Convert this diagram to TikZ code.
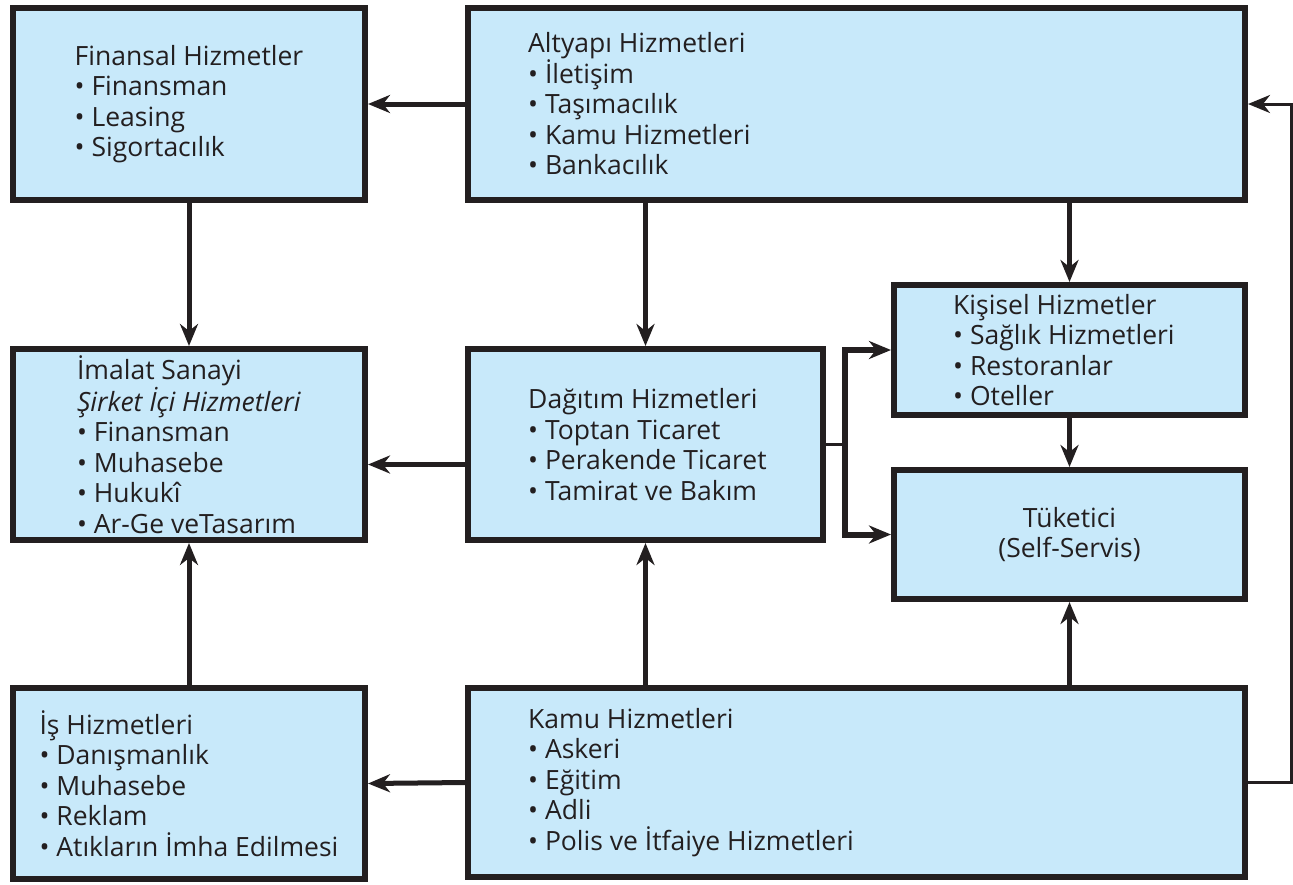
\documentclass[tikz,border=0pt]{standalone}
\usepackage{fontspec}
\setmainfont{Open Sans}
\usetikzlibrary{arrows.meta,positioning}
\definecolor{boxfill}{RGB}{200,233,250}
\definecolor{boxline}{RGB}{35,31,32}
\tikzset{>={Stealth[length=22pt,width=18pt,inset=7pt]}}
\tikzstyle{box}=[draw=boxline,line width=6,fill=boxfill,anchor=north west,inner sep=0,align=left,text=boxline]
\tikzstyle{txt}=[align=left,inner sep=0,text=boxline]
\tikzstyle{arrow}=[->,line width=5,boxline]
\tikzstyle{rail}=[line width=3,boxline]

\begin{document}
\begin{tikzpicture}[x=1pt,y=-1pt,font=\fontsize{26.5}{30.5}\selectfont]
  \useasboundingbox (0,0) rectangle (1293,884);

  % LEFT COLUMN
  \node[box,minimum width=352,minimum height=192] (fin) at (10,5)
    {Finansal Hizmetler\\• Finansman\\• Leasing\\• Sigortacılık};
  \node[box,minimum width=352,minimum height=191] (ima) at (10,346)
    {İmalat Sanayi\\\textit{Şirket İçi Hizmetleri}\\• Finansman\\• Muhasebe\\• Hukukî\\• Ar-Ge veTasarım};
  \node[box,minimum width=352,minimum height=191] (is) at (10,685)
    {İş Hizmetleri\\• Danışmanlık\\• Muhasebe\\• Reklam\\• Atıkların İmha Edilmesi};

  % MIDDLE AND RIGHT
  \node[box,minimum width=777,minimum height=192] (alt) at (465,5) {};
  \node[txt,right=63pt of alt.west] (alt-t)
    {Altyapı Hizmetleri\\• İletişim\\• Taşımacılık\\• Kamu Hizmetleri\\• Bankacılık};
  \node[box,minimum width=355,minimum height=191] (dag) at (465,346) {};
  \node[txt,right=63pt of dag.west] (dag-t)
    {Dağıtım Hizmetleri\\• Toptan Ticaret\\• Perakende Ticaret\\• Tamirat ve Bakım};
  \node[box,minimum width=351,minimum height=130] (kis) at (891,282) {};
  \node[txt,right=62pt of kis.west] (kis-t)
    {Kişisel Hizmetler\\• Sağlık Hizmetleri\\• Restoranlar\\• Oteller};
  \node[box,align=center,minimum width=351,minimum height=129] (tuk) at (891,467)
    {Tüketici\\(Self-Servis)};
  \node[box,minimum width=777,minimum height=189] (kamu) at (465,685) {};
  \node[txt,right=63pt of kamu.west] (kamu-t)
    {Kamu Hizmetleri\\• Askeri\\• Eğitim\\• Adli\\• Polis ve İtfaiye Hizmetleri};

  % ARROWS
  \draw[arrow] (alt.west) -- (fin.east);
  \draw[arrow] (fin.south) -- (ima.north);
  \draw[arrow] (dag.north |- alt.south) -- (dag.north);
  \draw[arrow] (kis.north |- alt.south) -- (kis.north);
  \draw[arrow] ([yshift=-20pt]dag.west) -- ([yshift=-20pt]ima.east);
  \draw[rail] (dag.east) -- ++(19,0) coordinate (fork);
  \draw[arrow,line width=6,<->] (kis.west) -| (fork |- tuk.west) -- (tuk.west);
  \draw[arrow] (kis.south) -- (tuk.north);
  \draw[arrow] (dag.south |- kamu.north) -- (dag.south);
  \draw[arrow] (tuk.south |- kamu.north) -- (tuk.south);
  \draw[arrow] (kamu.west) -- (is.east);
  \draw[arrow] (is.north) -- (ima.south);
  \coordinate (edge) at (1291,0);
  \draw[rail,->] (kamu.east) -- (kamu.east -| edge) |- (alt.east);
\end{tikzpicture}
\end{document}
